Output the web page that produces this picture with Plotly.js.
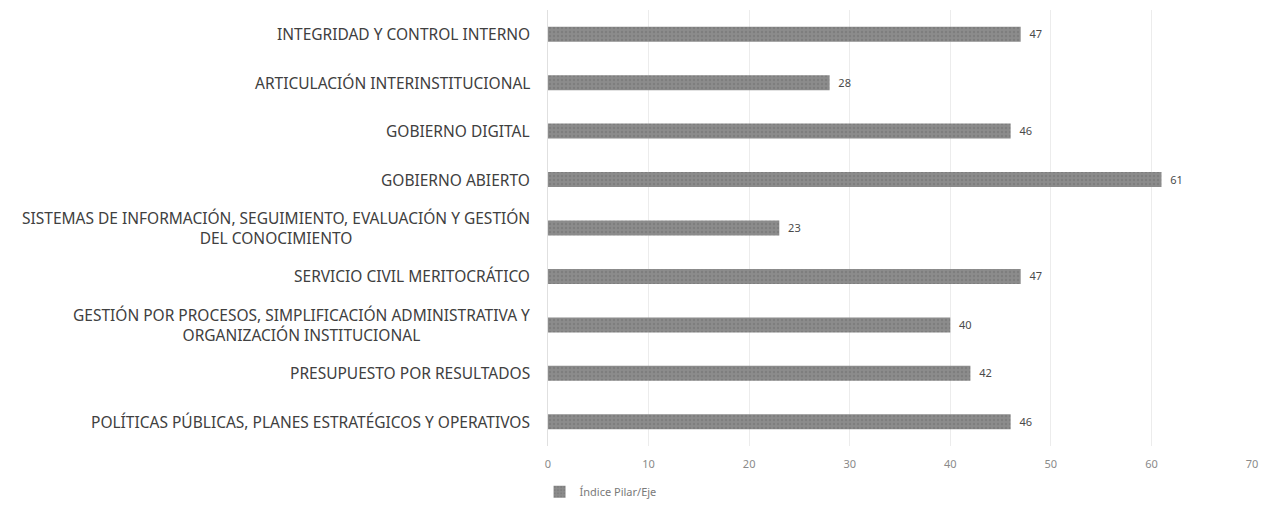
<!DOCTYPE html>
<html>
<head>
<meta charset="utf-8">
<script src="https://cdn.plot.ly/plotly-3.0.1.min.js"></script>
<style>html,body{margin:0;padding:0;background:#fff;}#chart{width:1267px;height:507px;}</style>
</head>
<body>
<div id="chart"></div>
<script>
const categories = [
  "POLÍTICAS PÚBLICAS, PLANES ESTRATÉGICOS Y OPERATIVOS",
  "PRESUPUESTO POR RESULTADOS",
  "GESTIÓN POR PROCESOS, SIMPLIFICACIÓN ADMINISTRATIVA Y<br>ORGANIZACIÓN INSTITUCIONAL",
  "SERVICIO CIVIL MERITOCRÁTICO",
  "SISTEMAS DE INFORMACIÓN, SEGUIMIENTO, EVALUACIÓN Y GESTIÓN<br>DEL CONOCIMIENTO",
  "GOBIERNO ABIERTO",
  "GOBIERNO DIGITAL",
  "ARTICULACIÓN INTERINSTITUCIONAL",
  "INTEGRIDAD Y CONTROL INTERNO"
];
const values = [46, 42, 40, 47, 23, 61, 46, 28, 47];
const seriesName = "Índice Pilar/Eje";
const xTicks = [0, 10, 20, 30, 40, 50, 60, 70];

const labelFont = {family: "Noto Sans, Liberation Sans, sans-serif", size: 15.5, color: "#404040"};

const trace = {
  type: "bar",
  orientation: "h",
  name: seriesName,
  y: categories,
  x: values,
  text: values.map(v => "\u00a0\u00a0" + v),
  textposition: "outside",
  cliponaxis: false,
  textfont: {family: "Noto Sans, sans-serif", size: 12.5, color: "#4a4a4a"},
  marker: {
    color: "#8c8c8c",
    pattern: {shape: ".", bgcolor: "#8c8c8c", fgcolor: "#7e7e7e", size: 4, solidity: 0.3}
  },
  showlegend: true
};

const annotations = categories.map(c => ({
  xref: "paper", yref: "y",
  x: 0, y: c,
  xanchor: "right", yanchor: "middle",
  xshift: -16,
  text: c,
  align: "center",
  showarrow: false,
  font: labelFont
}));

const layout = {
  width: 1267, height: 507,
  margin: {l: 548, r: 15, t: 10, b: 61, autoexpand: false},
  paper_bgcolor: "#ffffff",
  plot_bgcolor: "#ffffff",
  bargap: 0.69,
  xaxis: {
    range: [0, 70],
    tickvals: xTicks,
    ticktext: xTicks.map(String),
    showgrid: true,
    gridcolor: "#ececec",
    gridwidth: 1,
    zeroline: false,
    showline: false,
    ticks: "",
    ticklabelstandoff: 10,
    tickfont: {family: "Noto Sans, sans-serif", size: 11, color: "#8a8a8a"}
  },
  yaxis: {
    type: "category",
    categoryorder: "array",
    categoryarray: categories,
    showticklabels: false,
    showgrid: false,
    zeroline: false,
    showline: true,
    linecolor: "#e0e0e0",
    ticks: ""
  },
  legend: {
    orientation: "h",
    x: -0.012, xanchor: "left",
    y: -0.105, yanchor: "middle",
    font: {family: "Noto Sans, sans-serif", size: 11, color: "#7a7a7a"},
    itemwidth: 30,
    bgcolor: "rgba(0,0,0,0)"
  },
  annotations: annotations,
  showlegend: true
};

Plotly.newPlot("chart", [trace], layout, {displayModeBar: false, staticPlot: true});
</script>
</body>
</html>
